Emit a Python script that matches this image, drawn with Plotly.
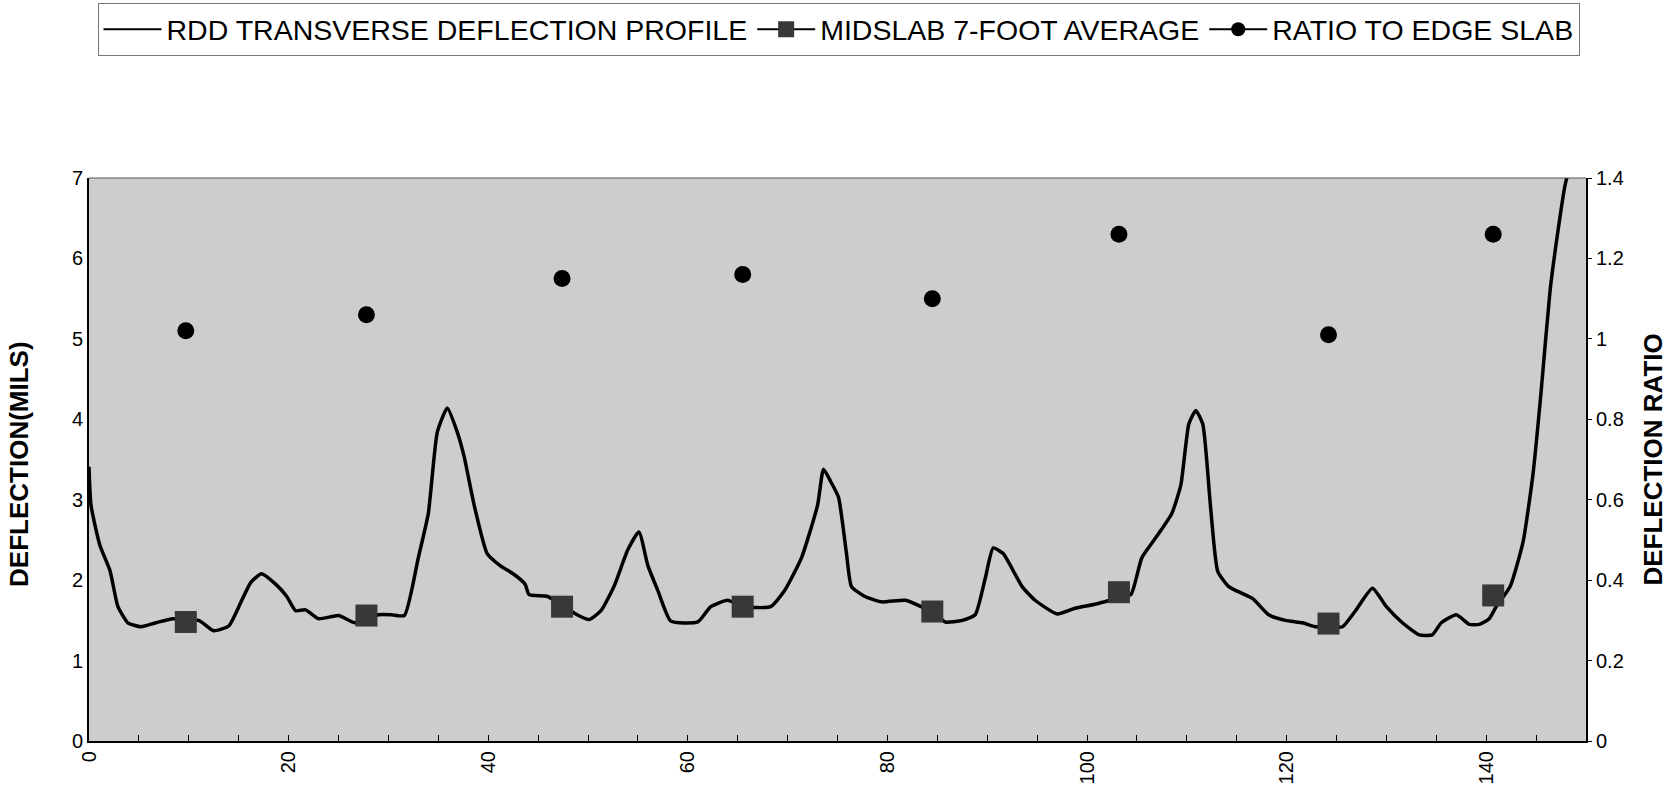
import plotly.graph_objects as go

# ---------------- data ----------------
X_PROFILE = [0, 0.2, 1.1, 2.1, 2.9, 3.9, 5.2, 6.7, 8.4, 9.7, 11.0, 12.5, 14.0, 15.2, 16.2,
             17.3, 18.7, 19.8, 20.7, 21.7, 23.0, 25.0, 26.6, 27.8, 29.0, 30.3, 31.6, 33.0,
             34.0, 34.9, 35.9, 36.9, 37.6, 38.6, 39.9, 41.2, 42.6, 43.7, 44.1, 45.9, 47.5,
             48.9, 50.1, 51.3, 52.6, 54.0, 55.1, 56.0, 57.0, 58.3, 61.0, 62.3, 64.0, 65.5,
             68.3, 69.7, 71.4, 73.0, 73.6, 74.3, 75.1, 75.9, 76.4, 77.7, 79.4, 81.8, 83.4,
             84.5, 85.8, 87.5, 88.8, 89.8, 90.6, 91.6, 93.5, 94.8, 97.0, 98.8, 100.8, 103.2,
             104.4, 105.5, 106.9, 108.5, 109.4, 110.2, 110.9, 111.6, 112.4, 113.1, 114.2,
             116.6, 118.2, 119.9, 121.6, 122.9, 124.2, 125.6, 126.9, 128.6, 130.0, 131.6,
             133.3, 134.6, 135.5, 137.0, 138.3, 139.3, 140.3, 141.0, 142.4, 143.7, 144.7,
             145.5, 146.4, 147.2, 147.9, 148.4]
Y_PROFILE = [3.41, 2.93, 2.43, 2.12, 1.67, 1.47, 1.42, 1.47, 1.52, 1.50, 1.50, 1.37, 1.43, 1.72, 1.97,
             2.08, 1.95, 1.80, 1.62, 1.63, 1.52, 1.56, 1.47, 1.50, 1.57, 1.57, 1.56, 2.28,
             2.83, 3.84, 4.14, 3.84, 3.53, 2.93, 2.33, 2.18, 2.07, 1.95, 1.82, 1.80, 1.68,
             1.57, 1.51, 1.62, 1.92, 2.38, 2.60, 2.18, 1.87, 1.49, 1.48, 1.67, 1.75, 1.67,
             1.67, 1.87, 2.28, 2.93, 3.38, 3.23, 3.03, 2.33, 1.92, 1.80, 1.73, 1.75, 1.67,
             1.60, 1.48, 1.50, 1.57, 2.02, 2.40, 2.33, 1.92, 1.75, 1.58, 1.65, 1.70, 1.78,
             1.82, 2.28, 2.53, 2.83, 3.18, 3.94, 4.11, 3.94, 2.88, 2.11, 1.92,
             1.77, 1.57, 1.50, 1.47, 1.42, 1.42, 1.42, 1.62, 1.90, 1.67, 1.47,
             1.32, 1.32, 1.47, 1.57, 1.45, 1.45, 1.52, 1.67, 1.92, 2.48, 3.33,
             4.34, 5.60, 6.35, 6.91, 7.16]

X_SLAB = [9.7, 27.8, 47.4, 65.5, 84.5, 103.2, 124.2, 140.7]
Y_MIDSLAB = [1.48, 1.56, 1.67, 1.67, 1.61, 1.85, 1.46, 1.81]
Y_RATIO = [1.02, 1.06, 1.15, 1.16, 1.10, 1.26, 1.01, 1.26]

NAMES = ["RDD TRANSVERSE DEFLECTION PROFILE", "MIDSLAB 7-FOOT AVERAGE", "RATIO TO EDGE SLAB"]
X_TICKS = [0, 20, 40, 60, 80, 100, 120, 140]
Y_LEFT_TITLE = "DEFLECTION(MILS)"
Y_RIGHT_TITLE = "DEFLECTION RATIO"

FONT = "Arial, Liberation Sans, Helvetica, sans-serif"

fig = go.Figure()

# plotted marks
fig.add_trace(go.Scatter(x=X_PROFILE, y=Y_PROFILE, mode="lines",
                         line=dict(color="black", width=3.5, shape="spline", smoothing=0.5),
                         showlegend=False))
fig.add_trace(go.Scatter(x=X_SLAB, y=Y_MIDSLAB, mode="markers",
                         marker=dict(symbol="square", size=22, color="#383838"),
                         showlegend=False))
fig.add_trace(go.Scatter(x=X_SLAB, y=Y_RATIO, mode="markers", yaxis="y2",
                         marker=dict(symbol="circle", size=17, color="black"),
                         showlegend=False))

# legend entries
fig.add_trace(go.Scatter(x=[None], y=[None], mode="lines", name=NAMES[0],
                         line=dict(color="black", width=2)))
fig.add_trace(go.Scatter(x=[None], y=[None], mode="lines+markers", name=NAMES[1],
                         line=dict(color="black", width=2),
                         marker=dict(symbol="square", size=16, color="#383838")))
fig.add_trace(go.Scatter(x=[None], y=[None], mode="lines+markers", name=NAMES[2],
                         yaxis="y2", line=dict(color="black", width=2),
                         marker=dict(symbol="circle", size=14, color="black")))

fig.update_layout(
    width=1677, height=788,
    margin=dict(l=89, r=91, t=178, b=47, autoexpand=False),
    paper_bgcolor="white",
    plot_bgcolor="#cdcdcd",
    font=dict(family=FONT, color="black", size=20),
    showlegend=True,
    legend=dict(orientation="h", x=0.5, xanchor="center", xref="container",
                y=0.996, yanchor="top", yref="container",
                font=dict(family=FONT, size=28.5, color="black"),
                bordercolor="#777777", borderwidth=1, bgcolor="white",
                itemwidth=58, tracegroupgap=0),
    xaxis=dict(range=[0, 150], tickvals=X_TICKS, tickangle=-90,
               ticks="inside", ticklen=6, tickcolor="black",
               minor=dict(dtick=5, ticks="inside", ticklen=6, tickcolor="black"),
               showgrid=False, zeroline=False, showline=True, linecolor="black",
               linewidth=2, tickfont=dict(size=20), automargin=False),
    yaxis=dict(range=[0, 7], dtick=1, ticks="", showgrid=False, zeroline=False,
               showline=True, linecolor="black", linewidth=2,
               tickfont=dict(size=20), automargin=False),
    yaxis2=dict(range=[0, 1.4], dtick=0.2, overlaying="y", side="right",
                ticks="outside", ticklen=4, tickcolor="black", showgrid=False,
                zeroline=False, showline=True, linecolor="black", linewidth=2,
                tickfont=dict(size=20), automargin=False),
    shapes=[dict(type="line", xref="paper", yref="paper", x0=0, x1=1, y0=1, y1=1,
                 line=dict(color="#555555", width=1))],
    annotations=[
        dict(text=Y_LEFT_TITLE, xref="paper", yref="paper", x=-0.0468, y=0.492,
             textangle=-90, showarrow=False, xanchor="center", yanchor="middle",
             font=dict(family=FONT, size=26, color="black", weight="bold")),
        dict(text=Y_RIGHT_TITLE, xref="paper", yref="paper", x=1.0441, y=0.5,
             textangle=-90, showarrow=False, xanchor="center", yanchor="middle",
             font=dict(family=FONT, size=26, color="black", weight="bold")),
    ],
)

fig.write_html("out.html")
